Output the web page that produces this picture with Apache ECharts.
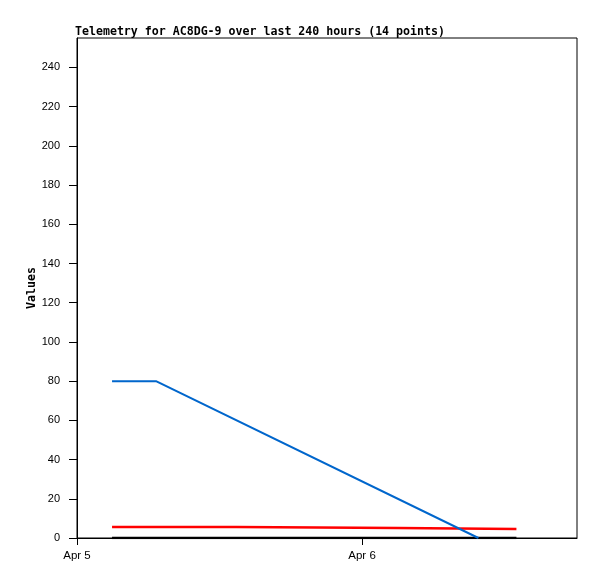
<!DOCTYPE html>
<html>
<head>
<meta charset="utf-8">
<script src="https://cdn.jsdelivr.net/npm/echarts@6/dist/echarts.min.js"></script>
<style>html,body{margin:0;padding:0;background:#fff}#c{width:597px;height:579px}</style>
</head>
<body>
<div id="c"></div>
<script>
// hours since Apr 5 00:00
var dayTicks = [0, 24];
var dayLabels = ['Apr 5', 'Apr 6'];
var yTicks = [0, 20, 40, 60, 80, 100, 120, 140, 160, 180, 200, 220, 240];
var blueSeries = [[2.95, 80], [6.65, 80], [33.8, 0]];
var redSeries = [[2.95, 5.6], [13.4, 5.6], [13.4, 5.1], [27.0, 5.1], [27.0, 4.6], [37.0, 4.6]];
var blackSeries = [[2.95, 0], [37.0, 0]];

var chart = echarts.init(document.getElementById('c'));
chart.setOption({
  animation: false,
  backgroundColor: '#fff',
  title: {
    text: 'Telemetry for AC8DG-9 over last 240 hours (14 points)',
    left: 70, top: 21,
    textStyle: {fontFamily: 'DejaVu Sans Mono', fontWeight: 'bold', fontSize: 11.6, color: '#000'}
  },
  grid: {left: 77, right: 20, top: 38, bottom: 41, show: true, borderColor: '#000', borderWidth: 1, backgroundColor: 'transparent'},
  xAxis: {
    type: 'value', min: 0, max: 42.1,
    axisLine: {lineStyle: {color: '#000', width: 1}},
    axisTick: {length: 7, lineStyle: {color: '#000'}, customValues: dayTicks},
    splitLine: {show: false},
    axisLabel: {
      color: '#000', fontFamily: 'Liberation Sans', fontSize: 11.5, margin: 12,
      customValues: dayTicks,
      formatter: function (v) { var i = dayTicks.indexOf(v); return i >= 0 ? dayLabels[i] : ''; }
    }
  },
  yAxis: {
    type: 'value', min: 0, max: 255,
    name: 'Values', nameLocation: 'middle', nameGap: 39, nameRotate: 90, nameMoveOverlap: false,
    nameTextStyle: {fontFamily: 'DejaVu Sans Mono', fontWeight: 'bold', fontSize: 11.6, color: '#000'},
    axisLine: {show: true, lineStyle: {color: '#000', width: 1}},
    axisTick: {show: true, length: 8, lineStyle: {color: '#000'}, customValues: yTicks},
    splitLine: {show: false},
    axisLabel: {
      color: '#000', fontFamily: 'Liberation Sans', fontSize: 11, margin: 17,
      customValues: yTicks
    }
  },
  series: [
    {type: 'line', data: blackSeries, symbol: 'none', lineStyle: {color: '#000', width: 2.5}, z: 3},
    {type: 'line', data: redSeries, symbol: 'none', lineStyle: {color: '#ff0000', width: 2.3}, z: 4},
    {type: 'line', data: blueSeries, symbol: 'none', lineStyle: {color: '#0066cc', width: 2}, z: 5}
  ]
});
</script>
</body>
</html>
